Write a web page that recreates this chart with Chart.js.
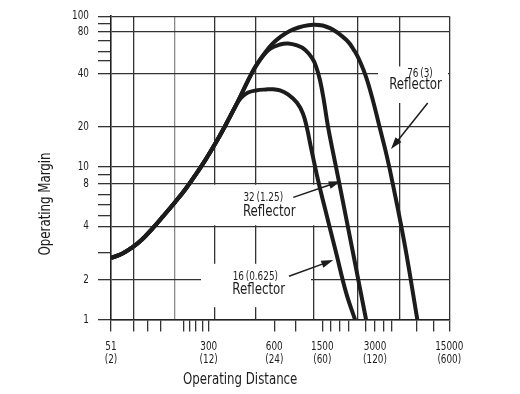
<!DOCTYPE html>
<html>
<head>
<meta charset="utf-8">
<title>Operating Margin vs Operating Distance</title>
<script src="https://cdn.jsdelivr.net/npm/chart.js@4.4.1/dist/chart.umd.min.js"></script>
<style>
  html, body { margin: 0; padding: 0; background: #fff; }
</style>
</head>
<body>
<canvas id="chart" width="520" height="394"></canvas>
<script>
// operating distance in mm, inches in brackets
const distTicks = [51, 300, 600, 1500, 3000, 15000];
const distTickInches = [2, 12, 24, 60, 120, 600];
const distMinorTicks = [77, 100, 126, 189, 214, 238, 267, 896, 1682, 1893, 2131, 2666, 3622, 4308, 7403, 10770];
const distGridValues = [77, 163, 318, 493, 1263, 2377, 5155, 15000];

const marginTicks = [1, 2, 4, 8, 10, 20, 40, 80, 100];
const marginMinorTicks = [2.83, 4.77, 5.69, 6.64, 9, 50, 58, 69, 90];

// 76 (3) reflector
const dist76 = [51, 62.3, 76.0, 89.5, 105.4, 131, 162.8, 195.2, 234, 280.5, 320.7, 356.3, 400.4, 454.4, 489.3, 543.8, 628, 862, 1263, 1660, 2068, 2306, 2463, 2666, 2884, 3344, 3866, 4430, 5745, 7500];
const margin76 = [2.65, 2.80, 3.06, 3.37, 3.81, 4.70, 5.91, 7.24, 8.92, 11.2, 14.9, 20.2, 26.6, 36.7, 44.6, 56.7, 69.8, 82.4, 88.2, 84.1, 69.3, 57.5, 49.1, 38.6, 29.6, 19.4, 12.2, 7.84, 3.09, 1];

// 32 (1.25) reflector
const dist32 = [51, 62.3, 76.0, 89.5, 105.4, 131, 162.8, 195.2, 234, 280.5, 320.7, 356.3, 400.4, 454.4, 489.3, 526.8, 573, 669, 779, 926, 1078, 1232, 1330, 1436, 1534, 1617, 1773, 1918, 2255, 2666];
const margin32 = [2.65, 2.80, 3.06, 3.37, 3.81, 4.70, 5.91, 7.24, 8.92, 11.2, 14.9, 20.2, 26.6, 36.7, 44.6, 52.7, 60.4, 64.7, 65.8, 63.7, 59.5, 52.0, 45.4, 36.9, 28.0, 20.1, 10.9, 7.0, 2.78, 1];

// 16 (0.625) reflector
const dist16 = [51, 62.3, 76.0, 89.5, 105.4, 131, 162.8, 195.2, 234, 280.5, 320.7, 356.3, 400.4, 422, 454.4, 494.5, 549.6, 591.8, 669, 779, 926, 1038, 1120, 1209, 1382, 1534, 1796, 2049, 2306];
const margin16 = [2.65, 2.80, 3.06, 3.37, 3.81, 4.70, 5.91, 7.24, 8.92, 11.2, 14.9, 20.2, 26.6, 29.3, 31.4, 32.3, 32.7, 32.8, 32.3, 30.7, 27.5, 23.8, 19.6, 14.0, 8.40, 5.69, 2.85, 1.60, 1];

// callouts: [small text, big text, small x, small y, big x, big y]
const callouts = [
  ['76\u2009(3)', 'Reflector', 7954, 40.45, 7214, 34.56],
  ['32\u2009(1.25)', 'Reflector', 534, 6.36, 569, 5.09],
  ['16\u2009(0.625)', 'Reflector', 491, 2.06, 509, 1.685]
];
// arrows: [from x, from y, to x, to y]
const arrows = [
  [9396, 27.38, 4243, 13.66],
  [862, 6.394, 1911, 8.26],
  [794, 2.086, 1734, 2.576]
];
// white boxes behind callouts: [x0, x1, y0, y1]
const calloutBoxes = [
  [314, 1330, 4.07, 7.85],
  [261, 1209, 1.239, 2.456],
  [3202, 14584, 27.38, 45.27]
];

const FONT = "'Liberation Sans Narrow', 'DejaVu Sans Condensed', 'Roboto', sans-serif";
const INK = '#1c1c1c';
const CLEAR = 'rgba(0,0,0,0)';
const SQUEEZE = 0.82; // the print uses a condensed face

// the printed graph paper is not an even log grid, so map log values piecewise between the labelled ticks
class WarpLogScale extends Chart.Scale {
  determineDataLimits() {
    this.min = this.options.min;
    this.max = this.options.max;
  }
  buildTicks() {
    return this.options.tickValues.map(v => ({ value: v }));
  }
  getLabelForValue(v) {
    return String(v);
  }
  toDecimal(v) {
    const vals = this.options.anchorValues, fr = this.options.anchorFracs;
    let i = 0;
    while (i < vals.length - 2 && v > vals[i + 1]) i++;
    const l0 = Math.log10(vals[i]), l1 = Math.log10(vals[i + 1]);
    return fr[i] + (Math.log10(v) - l0) / (l1 - l0) * (fr[i + 1] - fr[i]);
  }
  getPixelForValue(v) {
    return this.getPixelForDecimal(this.toDecimal(v));
  }
  getPixelForTick(i) {
    return this.getPixelForValue(this.ticks[i].value);
  }
  getValueForPixel(p) {
    const d = this.getDecimalForPixel(p);
    const vals = this.options.anchorValues, fr = this.options.anchorFracs;
    let i = 0;
    while (i < fr.length - 2 && d > fr[i + 1]) i++;
    const l0 = Math.log10(vals[i]), l1 = Math.log10(vals[i + 1]);
    return Math.pow(10, l0 + (d - fr[i]) / (fr[i + 1] - fr[i]) * (l1 - l0));
  }
  // same as the stock label drawing, only squeezed sideways around each anchor
  drawLabels(chartArea) {
    if (!this.options.ticks.display) return;
    const ctx = this.ctx;
    const k = this.options.labelSqueeze || 1;
    for (const item of this.getLabelItems(chartArea)) {
      const o = item.options;
      const lines = Array.isArray(item.label) ? item.label : [item.label];
      ctx.save();
      ctx.translate(o.translation[0], o.translation[1]);
      ctx.scale(k, 1);
      ctx.font = item.font.string;
      ctx.fillStyle = o.color;
      ctx.textAlign = o.textAlign;
      ctx.textBaseline = o.textBaseline;
      let y = item.textOffset;
      lines.forEach(line => {
        ctx.fillText(line, 0, y);
        y += item.font.lineHeight;
      });
      ctx.restore();
    }
  }
}
WarpLogScale.id = 'warpLog';
WarpLogScale.defaults = {};
Chart.register(WarpLogScale);

const toPoints = (xs, ys) => xs.map((x, i) => ({ x: x, y: ys[i] }));
const curve = (xs, ys) => ({
  data: toPoints(xs, ys),
  borderColor: INK,
  borderWidth: 4,
  pointRadius: 0,
  fill: false,
  tension: 0.4
});

function squeezedText(ctx, text, x, y) {
  ctx.save();
  ctx.translate(x, y);
  ctx.scale(SQUEEZE, 1);
  ctx.fillText(text, 0, 0);
  ctx.restore();
}

function drawArrow(ctx, x0, y0, x1, y1) {
  const ang = Math.atan2(y1 - y0, x1 - x0);
  const head = 12, half = 3.8;
  const c = Math.cos(ang), s = Math.sin(ang);
  ctx.beginPath();
  ctx.moveTo(x0, y0);
  ctx.lineTo(x1 - c * head * 0.8, y1 - s * head * 0.8);
  ctx.stroke();
  ctx.beginPath();
  ctx.moveTo(x1, y1);
  ctx.lineTo(x1 - head * c + half * s, y1 - head * s - half * c);
  ctx.lineTo(x1 - head * c - half * s, y1 - head * s + half * c);
  ctx.closePath();
  ctx.fill();
}

const calloutPlugin = {
  id: 'callouts',
  beforeDatasetsDraw(chart) {
    const { ctx } = chart;
    const xs = chart.scales.x, ys = chart.scales.y;
    ctx.save();
    ctx.fillStyle = '#fff';
    calloutBoxes.forEach(([a, b, c, d]) => {
      const l = xs.getPixelForValue(a), r = xs.getPixelForValue(b);
      const bot = ys.getPixelForValue(c), top = ys.getPixelForValue(d);
      ctx.fillRect(l, top, r - l, bot - top);
    });
    ctx.restore();
  },
  afterDatasetsDraw(chart) {
    const { ctx } = chart;
    const xs = chart.scales.x, ys = chart.scales.y;
    ctx.save();
    ctx.fillStyle = INK;
    ctx.strokeStyle = INK;
    ctx.lineWidth = 1.5;
    ctx.textAlign = 'center';
    ctx.textBaseline = 'middle';
    callouts.forEach(([small, big, sx, sy, bx, by]) => {
      ctx.font = '12px ' + FONT;
      squeezedText(ctx, small, xs.getPixelForValue(sx), ys.getPixelForValue(sy));
      ctx.font = '16px ' + FONT;
      squeezedText(ctx, big, xs.getPixelForValue(bx), ys.getPixelForValue(by));
    });
    arrows.forEach(([a, b, c, d]) => {
      drawArrow(ctx, xs.getPixelForValue(a), ys.getPixelForValue(b),
                xs.getPixelForValue(c), ys.getPixelForValue(d));
    });

    // axis titles
    const area = chart.chartArea;
    ctx.font = '16px ' + FONT;
    ctx.textAlign = 'left';
    ctx.textBaseline = 'alphabetic';
    squeezedText(ctx, 'Operating Distance', area.left + 72, area.bottom + 64);
    ctx.translate(area.left - 61, area.bottom - 64);
    ctx.rotate(-Math.PI / 2);
    squeezedText(ctx, 'Operating Margin', 0, 0);
    ctx.restore();
  }
};

const xTickValues = Array.from(new Set([...distTicks, ...distMinorTicks, ...distGridValues])).sort((a, b) => a - b);
const yTickValues = Array.from(new Set([...marginTicks, ...marginMinorTicks])).sort((a, b) => a - b);

new Chart(document.getElementById('chart'), {
  type: 'line',
  data: {
    datasets: [
      curve(dist76, margin76),
      curve(dist32, margin32),
      curve(dist16, margin16)
    ]
  },
  options: {
    responsive: false,
    animation: false,
    layout: { padding: { left: 0, top: 12, right: 70.7, bottom: 0 } },
    plugins: {
      legend: { display: false },
      tooltip: { enabled: false }
    },
    scales: {
      x: {
        type: 'warpLog',
        position: 'bottom',
        min: 51,
        max: 15000,
        anchorValues: distTicks,
        anchorFracs: [0, 0.2888, 0.4827, 0.6246, 0.7804, 1],
        tickValues: xTickValues,
        labelSqueeze: SQUEEZE,
        afterFit: s => { s.height = 74.5; },
        grid: {
          color: c => distGridValues.includes(c.tick.value) ? (c.tick.value === 163 ? '#8a8a8a' : '#333') : CLEAR,
          tickColor: c => (distTicks.includes(c.tick.value) || distMinorTicks.includes(c.tick.value)) ? '#333' : CLEAR,
          lineWidth: 1.3,
          tickWidth: 1.3,
          tickLength: 12
        },
        border: { color: '#222', width: 1.6 },
        ticks: {
          autoSkip: false,
          maxRotation: 0,
          padding: 8.5,
          color: INK,
          font: { family: FONT, size: 12, lineHeight: 1.1 },
          callback: v => {
            const i = distTicks.indexOf(v);
            return i >= 0 ? [String(v), '(' + distTickInches[i] + ')'] : '';
          }
        }
      },
      y: {
        type: 'warpLog',
        position: 'left',
        min: 1,
        max: 100,
        anchorValues: marginTicks,
        anchorFracs: [0, 0.1317, 0.3073, 0.4481, 0.5024, 0.6348, 0.8091, 0.9496, 1],
        tickValues: yTickValues,
        labelSqueeze: SQUEEZE,
        afterFit: s => { s.width = 111; },
        grid: {
          color: c => marginTicks.includes(c.tick.value) ? '#333' : CLEAR,
          tickColor: '#333',
          lineWidth: 1.3,
          tickWidth: 1.3,
          tickLength: 13
        },
        border: { color: '#222', width: 1.6 },
        ticks: {
          autoSkip: false,
          padding: 9,
          color: INK,
          font: { family: FONT, size: 12 },
          callback: v => marginTicks.includes(v) ? String(v) : ''
        }
      }
    }
  },
  plugins: [calloutPlugin]
});
</script>
</body>
</html>
